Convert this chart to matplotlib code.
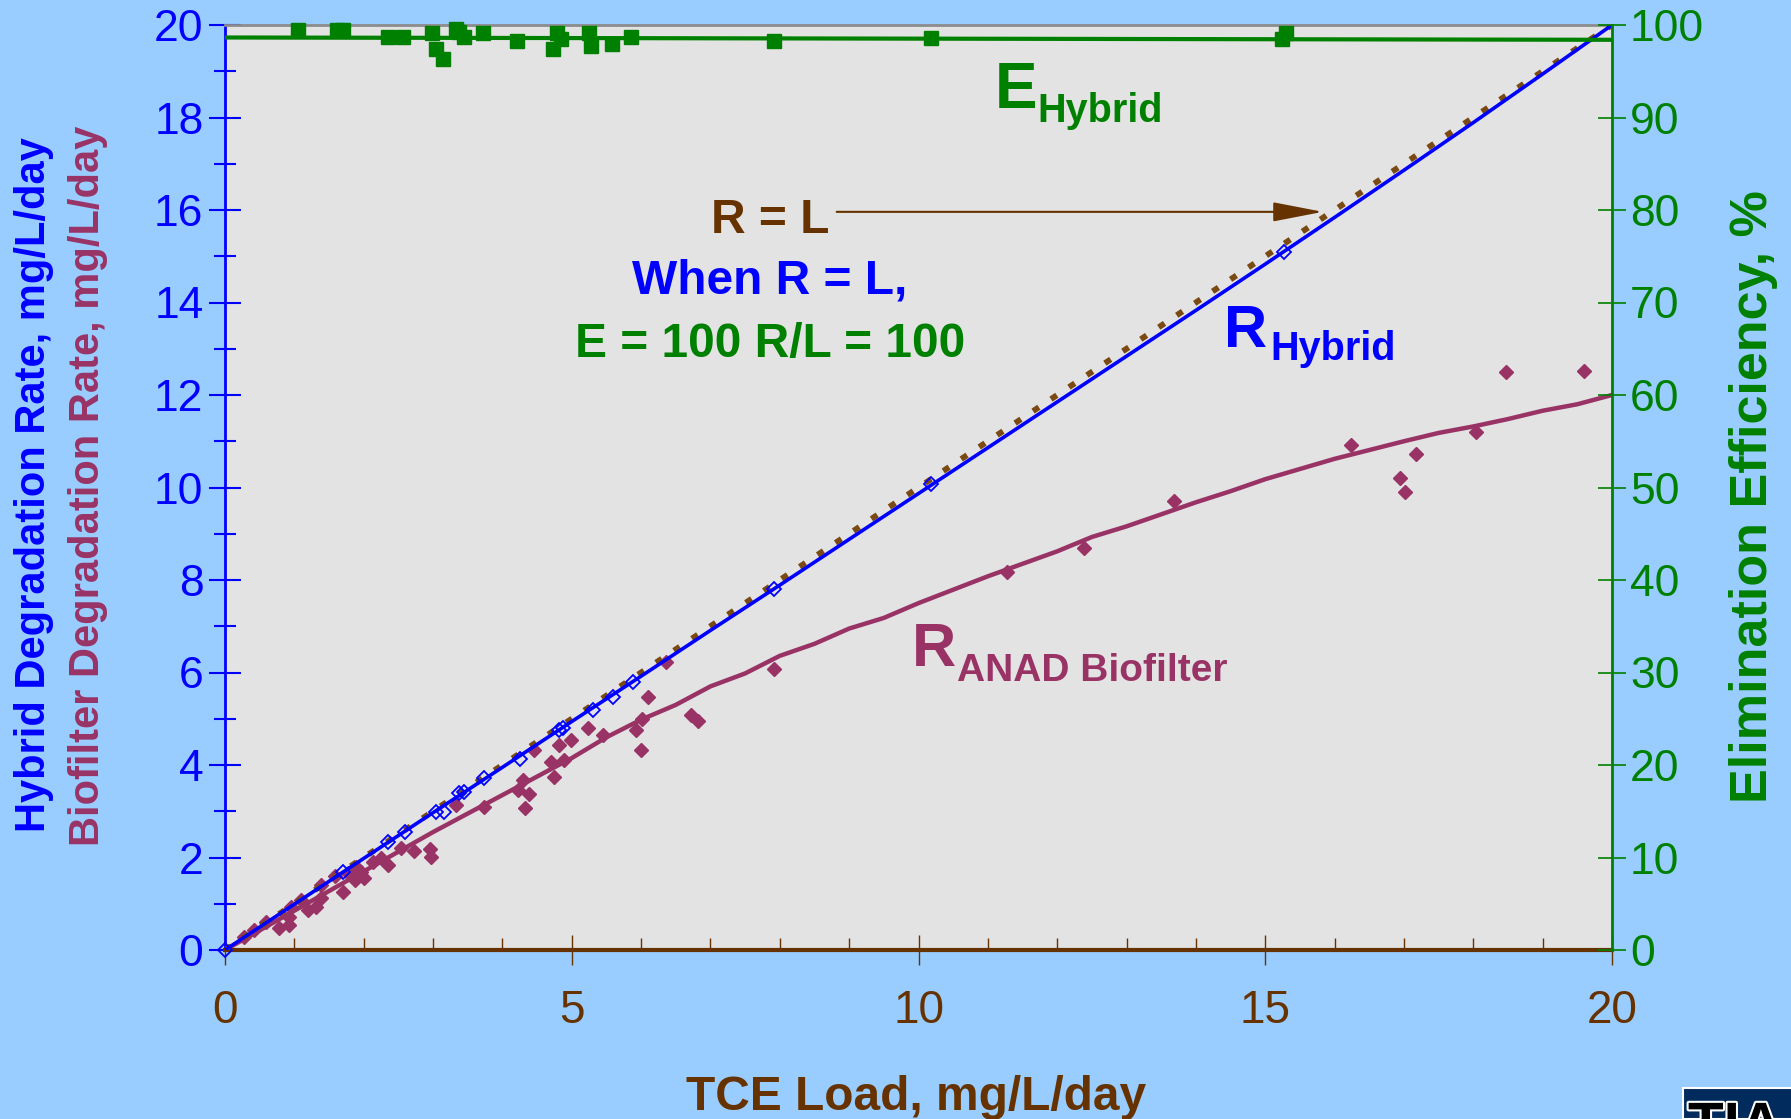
import matplotlib
matplotlib.use("Agg")
import matplotlib.pyplot as plt
import matplotlib.patheffects as pe
from matplotlib.patches import Rectangle
from matplotlib.ticker import MultipleLocator

plt.rcParams['font.family'] = ['Liberation Sans', 'DejaVu Sans']

# colours
BLUE = '#0000FF'
PURPLE = '#993366'
BROWN = '#663300'
DOTBROWN = '#7A4A12'
GREEN = '#008000'
BG = '#99CCFF'
PLOT_BG = '#E3E3E3'

# R = L reference line
rl_x = [0, 20]
rl_y = [0, 20]

# hybrid degradation rate (open diamonds + smooth line)
hyb_x = [0, 1.70, 2.35, 2.59, 3.04, 3.16, 3.38, 3.45, 3.74, 4.25, 4.82, 4.87,
         5.30, 5.59, 5.88, 7.91, 10.18, 15.27]
hyb_y = [0, 1.68, 2.34, 2.56, 2.99, 2.99, 3.39, 3.42, 3.71, 4.14, 4.76, 4.79,
         5.19, 5.48, 5.80, 7.80, 10.07, 15.10]
hyb_line_x = list(range(21))
hyb_line_y = [0, 0.99, 1.98, 2.97, 3.95, 4.94, 5.92, 6.91, 7.89, 8.88, 9.87,
              10.86, 11.85, 12.84, 13.83, 14.83, 15.84, 16.86, 17.89, 18.94, 20.0]

# ANAD biofilter degradation rate
bio_x = [0.28, 0.42, 0.59, 0.78, 0.93, 0.93, 0.95, 1.10, 1.19, 1.31, 1.38, 1.38,
         1.58, 1.70, 1.77, 1.87, 1.89, 2.00, 1.96, 2.13, 2.25, 2.35, 2.54, 2.73,
         2.95, 2.97, 3.33, 3.74, 4.29, 4.39, 4.22, 4.32, 4.46, 4.70, 4.75, 4.82,
         4.89, 4.99, 5.23, 5.45, 5.93, 6.00, 6.02, 6.10, 6.36, 6.72, 6.82, 7.91,
         11.28, 12.39, 13.69, 16.23, 16.95, 17.02, 17.18, 18.04, 18.47, 19.59]
bio_y = [0.29, 0.43, 0.61, 0.47, 0.54, 0.72, 0.94, 1.08, 0.86, 0.94, 1.12, 1.41,
         1.59, 1.26, 1.66, 1.51, 1.80, 1.55, 1.69, 1.91, 1.98, 1.84, 2.20, 2.13,
         2.18, 2.02, 3.14, 3.10, 3.68, 3.37, 3.46, 3.06, 4.32, 4.07, 3.75, 4.43,
         4.11, 4.54, 4.79, 4.65, 4.76, 4.32, 5.00, 5.48, 6.22, 5.09, 4.96, 6.07,
         8.17, 8.69, 9.70, 10.91, 10.20, 9.90, 10.72, 11.19, 12.49, 12.52]
bio_line_x = [0, 1, 2, 3, 4, 5, 5.5, 6, 6.5, 7, 7.5, 8, 8.5, 9, 9.5, 10, 11, 12,
              12.5, 13, 13.5, 14, 14.5, 15, 15.5, 16, 17, 17.5, 18, 18.5, 19, 19.5, 20]
bio_line_y = [0, 0.85, 1.70, 2.55, 3.35, 4.15, 4.60, 4.98, 5.30, 5.70, 5.98, 6.36,
              6.62, 6.95, 7.18, 7.50, 8.08, 8.62, 8.93, 9.16, 9.42, 9.68, 9.92,
              10.18, 10.40, 10.62, 11.00, 11.18, 11.32, 11.48, 11.66, 11.80, 12.0]

# elimination efficiency, %
eff_x = [1.05, 1.62, 1.70, 2.35, 2.57, 2.98, 3.04, 3.15, 3.33, 3.38, 3.45, 3.72,
         4.21, 4.73, 4.79, 4.84, 5.25, 5.28, 5.58, 5.85, 7.91, 10.18, 15.24, 15.30]
eff_y = [99.5, 99.5, 99.5, 98.7, 98.7, 99.1, 97.4, 96.3, 99.6, 99.2, 98.7, 99.1,
         98.3, 97.4, 99.1, 98.5, 99.1, 97.7, 98.0, 98.7, 98.3, 98.6, 98.5, 99.1]
eff_line_x = [0, 20]
eff_line_y = [98.65, 98.4]

fig = plt.figure(figsize=(17.91, 11.19), dpi=100, facecolor=BG)
ax = fig.add_axes([225 / 1791, 1 - 950 / 1119, (1612 - 225) / 1791, (950 - 25) / 1119])
ax.set_facecolor(PLOT_BG)

ax.plot(rl_x, rl_y, color=DOTBROWN, lw=4.2, dashes=(1.2, 2.5), dash_capstyle='butt', zorder=3)
ax.plot(bio_line_x, bio_line_y, color=PURPLE, lw=3.2, zorder=2)
ax.plot(bio_x, bio_y, 'D', color=PURPLE, ms=7.5, mec=PURPLE, zorder=2)
ax.plot(hyb_line_x, hyb_line_y, color=BLUE, lw=2.6, zorder=4)
ax.plot(hyb_x, hyb_y, 'D', ms=7, mfc='none', mec=BLUE, mew=1.3, zorder=4, clip_on=False)

ax.set_xlim(0, 20)
ax.set_ylim(0, 20)
ax.xaxis.set_major_locator(MultipleLocator(5))
ax.xaxis.set_minor_locator(MultipleLocator(1))
ax.yaxis.set_major_locator(MultipleLocator(2))
ax.yaxis.set_minor_locator(MultipleLocator(1))
ax.tick_params(axis='x', which='major', direction='inout', length=22, width=1,
               color=BROWN, labelcolor=BROWN, labelsize=33, pad=17)
ax.tick_params(axis='x', which='minor', direction='in', length=9, width=1, color=BROWN)
ax.tick_params(axis='y', which='major', direction='inout', length=23, width=1.5,
               color=BLUE, labelcolor=BLUE, labelsize=32, pad=4)
ax.tick_params(axis='y', which='minor', direction='inout', length=16, width=1.5, color=BLUE)

ax.spines['left'].set_color(BLUE)
ax.spines['left'].set_linewidth(2)
ax.spines['bottom'].set_color(BROWN)
ax.spines['bottom'].set_linewidth(3)
ax.spines['top'].set_color('#8C8C8C')
ax.spines['top'].set_linewidth(2)
ax.spines['right'].set_visible(False)

ax2 = ax.twinx()
ax2.set_ylim(0, 100)
ax2.plot(eff_line_x, eff_line_y, color=GREEN, lw=3.0, zorder=3)
ax2.plot(eff_x, eff_y, 's', color=GREEN, ms=9.5, zorder=3, clip_on=False)
ax2.yaxis.set_major_locator(MultipleLocator(10))
ax2.tick_params(axis='y', which='major', direction='inout', length=20, width=1.2,
                color=GREEN, labelcolor=GREEN, labelsize=32, pad=3)
for s in ['left', 'top', 'bottom']:
    ax2.spines[s].set_visible(False)
ax2.spines['right'].set_color(GREEN)
ax2.spines['right'].set_linewidth(2)

# annotations
ax.text(11.10, 18.2, 'E', color=GREEN, fontsize=46, fontweight='bold', va='baseline', ha='left')
ax.text(11.72, 17.91, 'Hybrid', color=GREEN, fontsize=28.5, fontweight='bold', va='baseline', ha='left')
ax.text(14.40, 13.04, 'R', color=BLUE, fontsize=43, fontweight='bold', va='baseline', ha='left')
ax.text(15.07, 12.76, 'Hybrid', color=BLUE, fontsize=28.5, fontweight='bold', va='baseline', ha='left')
ax.text(9.90, 6.13, 'R', color=PURPLE, fontsize=44, fontweight='bold', va='baseline', ha='left')
ax.text(10.55, 5.82, 'ANAD Biofilter', color=PURPLE, fontsize=28, fontweight='bold', va='baseline', ha='left')

ax.text(7.86, 15.51, 'R = L', color=BROWN, fontsize=34.5, fontweight='bold', va='baseline', ha='center')
ax.text(7.86, 14.20, 'When R = L,', color=BLUE, fontsize=34.5, fontweight='bold', va='baseline', ha='center')
ax.text(7.86, 12.83, 'E = 100 R/L = 100', color=GREEN, fontsize=34.5, fontweight='bold', va='baseline', ha='center')
ax.annotate('', xy=(15.83, 15.96), xytext=(8.82, 15.96),
            arrowprops=dict(arrowstyle='-|>,head_length=1.55,head_width=0.3',
                            mutation_scale=20, color=BROWN, lw=1.5, shrinkA=0, shrinkB=0))

# axis titles
fig.text(34 / 1791, 1 - 485 / 1119, 'Hybrid Degradation Rate, mg/L/day', color=BLUE,
         fontsize=30, fontweight='bold', rotation=90, ha='center', va='center')
fig.text(88 / 1791, 1 - 485.5 / 1119, 'Biofilter Degradation Rate, mg/L/day', color=PURPLE,
         fontsize=30, fontweight='bold', rotation=90, ha='center', va='center')
fig.text(1753 / 1791, 1 - 497 / 1119, 'Elimination Efficiency, %', color=GREEN,
         fontsize=37.5, fontweight='bold', rotation=90, ha='center', va='center')
fig.text(916.5 / 1791, 1 - 1110 / 1119, 'TCE Load, mg/L/day', color=BROWN,
         fontsize=34.5, fontweight='bold', ha='center', va='baseline')

# corner logo
fig.patches.append(Rectangle((1683 / 1791, 0), 0.07, 1 - 1088 / 1119, transform=fig.transFigure,
                             facecolor='#002B5C', edgecolor='white', lw=1.5))
fig.text(1688 / 1791, 1 - 1101 / 1119, 'TIA', color='black', fontsize=42, fontweight='bold',
         ha='left', va='top', path_effects=[pe.withStroke(linewidth=3, foreground='white')])

fig.savefig('out.png', dpi=100, facecolor=BG)
